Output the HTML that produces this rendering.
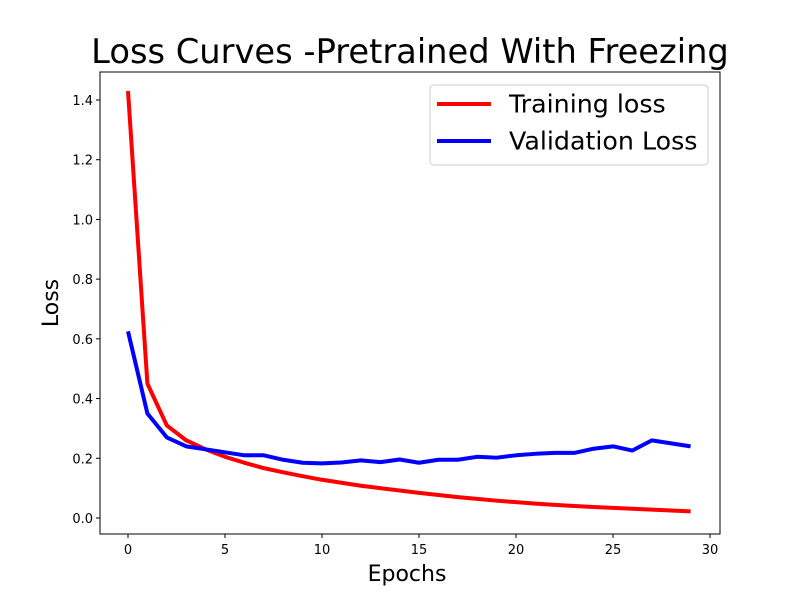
<!DOCTYPE html>
<html><head><meta charset="utf-8"><style>body{margin:0;background:#fff}svg{font-family:"DejaVu Sans","Liberation Sans",sans-serif}</style></head>
<body>
<svg id="c" width="800" height="600"></svg>
<script>
const epochs=[0,1,2,3,4,5,6,7,8,9,10,11,12,13,14,15,16,17,18,19,20,21,22,23,24,25,26,27,28,29];
const trainLoss=[1.43,0.45,0.31,0.26,0.23,0.205,0.185,0.167,0.153,0.14,0.128,0.118,0.108,0.1,0.092,0.084,0.077,0.07,0.064,0.058,0.053,0.048,0.044,0.04,0.037,0.034,0.031,0.028,0.025,0.022];
const valLoss=[0.625,0.35,0.27,0.24,0.23,0.22,0.21,0.21,0.195,0.185,0.183,0.186,0.193,0.187,0.196,0.185,0.195,0.195,0.205,0.202,0.21,0.215,0.218,0.218,0.232,0.24,0.226,0.26,0.25,0.24];
const xTicks=[0,5,10,15,20,25,30];
const yTicks=[0.0,0.2,0.4,0.6,0.8,1.0,1.2,1.4];
const NS='http://www.w3.org/2000/svg';
const svg=document.getElementById('c');
const X=v=>128+v*(710-128)/30;
const Y=v=>518-v*(518-100)/1.4;
function mk(t,a,txt){const e=document.createElementNS(NS,t);for(const k in a)e.setAttribute(k,a[k]);if(txt!==undefined)e.textContent=txt;svg.appendChild(e);return e;}
let e;
e=mk('rect',{x:100,y:72,width:620,height:462,fill:'none',stroke:'#000','stroke-width':1});


xTicks.forEach(t=>{
 e=mk('line',{x1:X(t),x2:X(t),y1:534,y2:538,stroke:'#000'});
 
 
 e=mk('text',{x:X(t),y:554,'font-size':13,'text-anchor':'middle'},String(t));
 
 
});
yTicks.forEach(t=>{
 e=mk('line',{x1:96,x2:100,y1:Y(t),y2:Y(t),stroke:'#000'});
 
 
 e=mk('text',{x:93,y:Y(t)+5,'font-size':13,'text-anchor':'end'},t.toFixed(1));
 
 
});
function line(d,c,n){e=mk('polyline',{points:d.map((v,i)=>X(epochs[i])+','+Y(v)).join(' '),fill:'none',stroke:c,'stroke-width':4,'stroke-linejoin':'round'});
 
 }
line(trainLoss,'#ff0000','training-loss-line');
line(valLoss,'#0000ff','validation-loss-line');
e=mk('text',{x:410,y:63,'font-size':33.7,'text-anchor':'middle'},'Loss Curves -Pretrained With Freezing');


e=mk('text',{x:407,y:581,'font-size':22,'text-anchor':'middle'},'Epochs');


e=mk('text',{x:0,y:0,'font-size':22,'text-anchor':'middle',transform:'translate(58,303) rotate(-90)'},'Loss');


e=mk('rect',{x:430,y:85,width:278,height:80,rx:4,fill:'#fff','fill-opacity':0.8,stroke:'#ccc'});


[['Training loss','#ff0000',104],['Validation Loss','#0000ff',141]].forEach(([t,c,y])=>{
 e=mk('line',{x1:437,x2:491,y1:y,y2:y,stroke:c,'stroke-width':4});
 
 
 e=mk('text',{x:509,y:y+8.5,'font-size':25.3},t);
 
 
});
</script>
</body></html>
